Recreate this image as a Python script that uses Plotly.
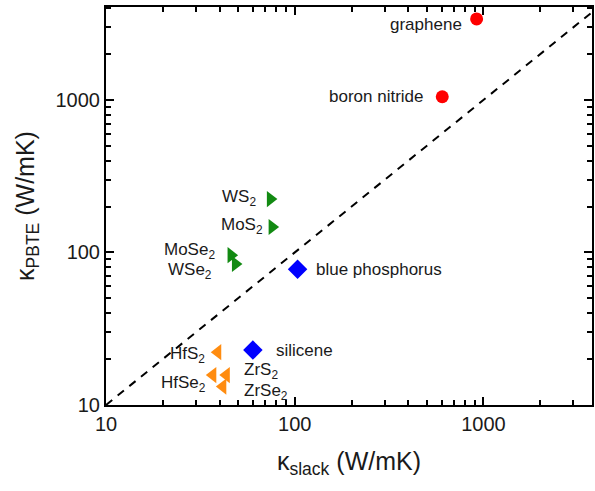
import math
import plotly.graph_objects as go

# ---- data ----
red_names = ["graphene", "boron nitride"]
red_x = [920, 605]
red_y = [3400, 1050]

green_names = ["WS<sub>2</sub>", "MoS<sub>2</sub>", "MoSe<sub>2</sub>", "WSe<sub>2</sub>"]
green_x = [74.3, 75.9, 46.0, 48.5]
green_y = [224, 147, 96, 84]

blue_names = ["blue phosphorus", "silicene"]
blue_x = [103.5, 60.0]
blue_y = [77.6, 22.9]

orange_names = ["HfS<sub>2</sub>", "HfSe<sub>2</sub>", "ZrS<sub>2</sub>", "ZrSe<sub>2</sub>"]
orange_x = [39.1, 36.8, 43.4, 41.6]
orange_y = [22.2, 15.7, 15.7, 13.2]

x_range = [10, 3760]
y_range = [10, 4070]
major_ticks = [10, 100, 1000]

# ---- label placement (style) ----
label_style = {
    "graphene": ("right", -13, -6),
    "boron nitride": ("right", -16, 0),
    "WS<sub>2</sub>": ("right", -12, 1),
    "MoS<sub>2</sub>": ("right", -7, 1),
    "MoSe<sub>2</sub>": ("right", -14, 4),
    "WSe<sub>2</sub>": ("right", -21, -7),
    "blue phosphorus": ("left", 16, 0),
    "silicene": ("left", 21, 0),
    "HfS<sub>2</sub>": ("right", -11, -3),
    "HfSe<sub>2</sub>": ("right", -5, -9),
    "ZrS<sub>2</sub>": ("left", 16, 4),
    "ZrSe<sub>2</sub>": ("left", 19, -5),
}

FONT = "Liberation Sans, Arial, sans-serif"

fig = go.Figure()

# y = x dashed reference line
fig.add_trace(go.Scatter(
    x=[x_range[0], max(x_range[1], y_range[1])],
    y=[x_range[0], max(x_range[1], y_range[1])],
    mode="lines", line=dict(color="black", width=2, dash="8px,7px"),
    hoverinfo="skip", showlegend=False))

groups = [
    (red_names, red_x, red_y, "circle", "#ff0000", 13),
    (green_names, green_x, green_y, "triangle-right", "#128a12", 14),
    (blue_names, blue_x, blue_y, "diamond", "#0000ff", 15),
    (orange_names, orange_x, orange_y, "triangle-left", "#ff8c10", 14),
]

annotations = []
for names, xs, ys, sym, col, size in groups:
    fig.add_trace(go.Scatter(
        x=xs, y=ys, mode="markers",
        marker=dict(symbol=sym, color=col, size=size, line=dict(width=0)),
        showlegend=False, cliponaxis=False))
    for n, xv, yv in zip(names, xs, ys):
        anchor, dx, dy = label_style[n]
        annotations.append(dict(
            x=math.log10(xv), y=math.log10(yv), xref="x", yref="y",
            text=n, showarrow=False, xanchor=anchor, yanchor="middle",
            xshift=dx, yshift=dy,
            font=dict(family=FONT, size=17, color="#1a1a1a")))

minor_vals = [m * 10 ** d for d in range(1, 4) for m in range(2, 10)]

axis_common = dict(
    type="log", showgrid=False, zeroline=False,
    showline=True, linecolor="black", linewidth=2, mirror="allticks",
    ticks="inside", ticklen=8, tickwidth=2, tickcolor="black",
    tickvals=major_ticks, ticktext=[str(v) for v in major_ticks],
    tickfont=dict(family=FONT, size=20, color="#1a1a1a"),
    minor=dict(tickvals=minor_vals, ticks="inside", ticklen=5, tickwidth=1.5,
               tickcolor="black", showgrid=False),
)

fig.update_layout(
    width=595, height=491,
    margin=dict(l=106, r=1, t=7, b=86),
    paper_bgcolor="white", plot_bgcolor="white",
    xaxis=dict(axis_common, range=[math.log10(x_range[0]), math.log10(x_range[1])],
               title=dict(text="κ<sub>slack</sub> (W/mK)",
                          font=dict(family=FONT, size=25, color="#1a1a1a"),
                          standoff=18)),
    yaxis=dict(axis_common, range=[math.log10(y_range[0]), math.log10(y_range[1])],
               title=dict(text="κ<sub>PBTE</sub> (W/mK)",
                          font=dict(family=FONT, size=25, color="#1a1a1a"),
                          standoff=14)),
    annotations=annotations,
)

fig.write_html("out.html")
